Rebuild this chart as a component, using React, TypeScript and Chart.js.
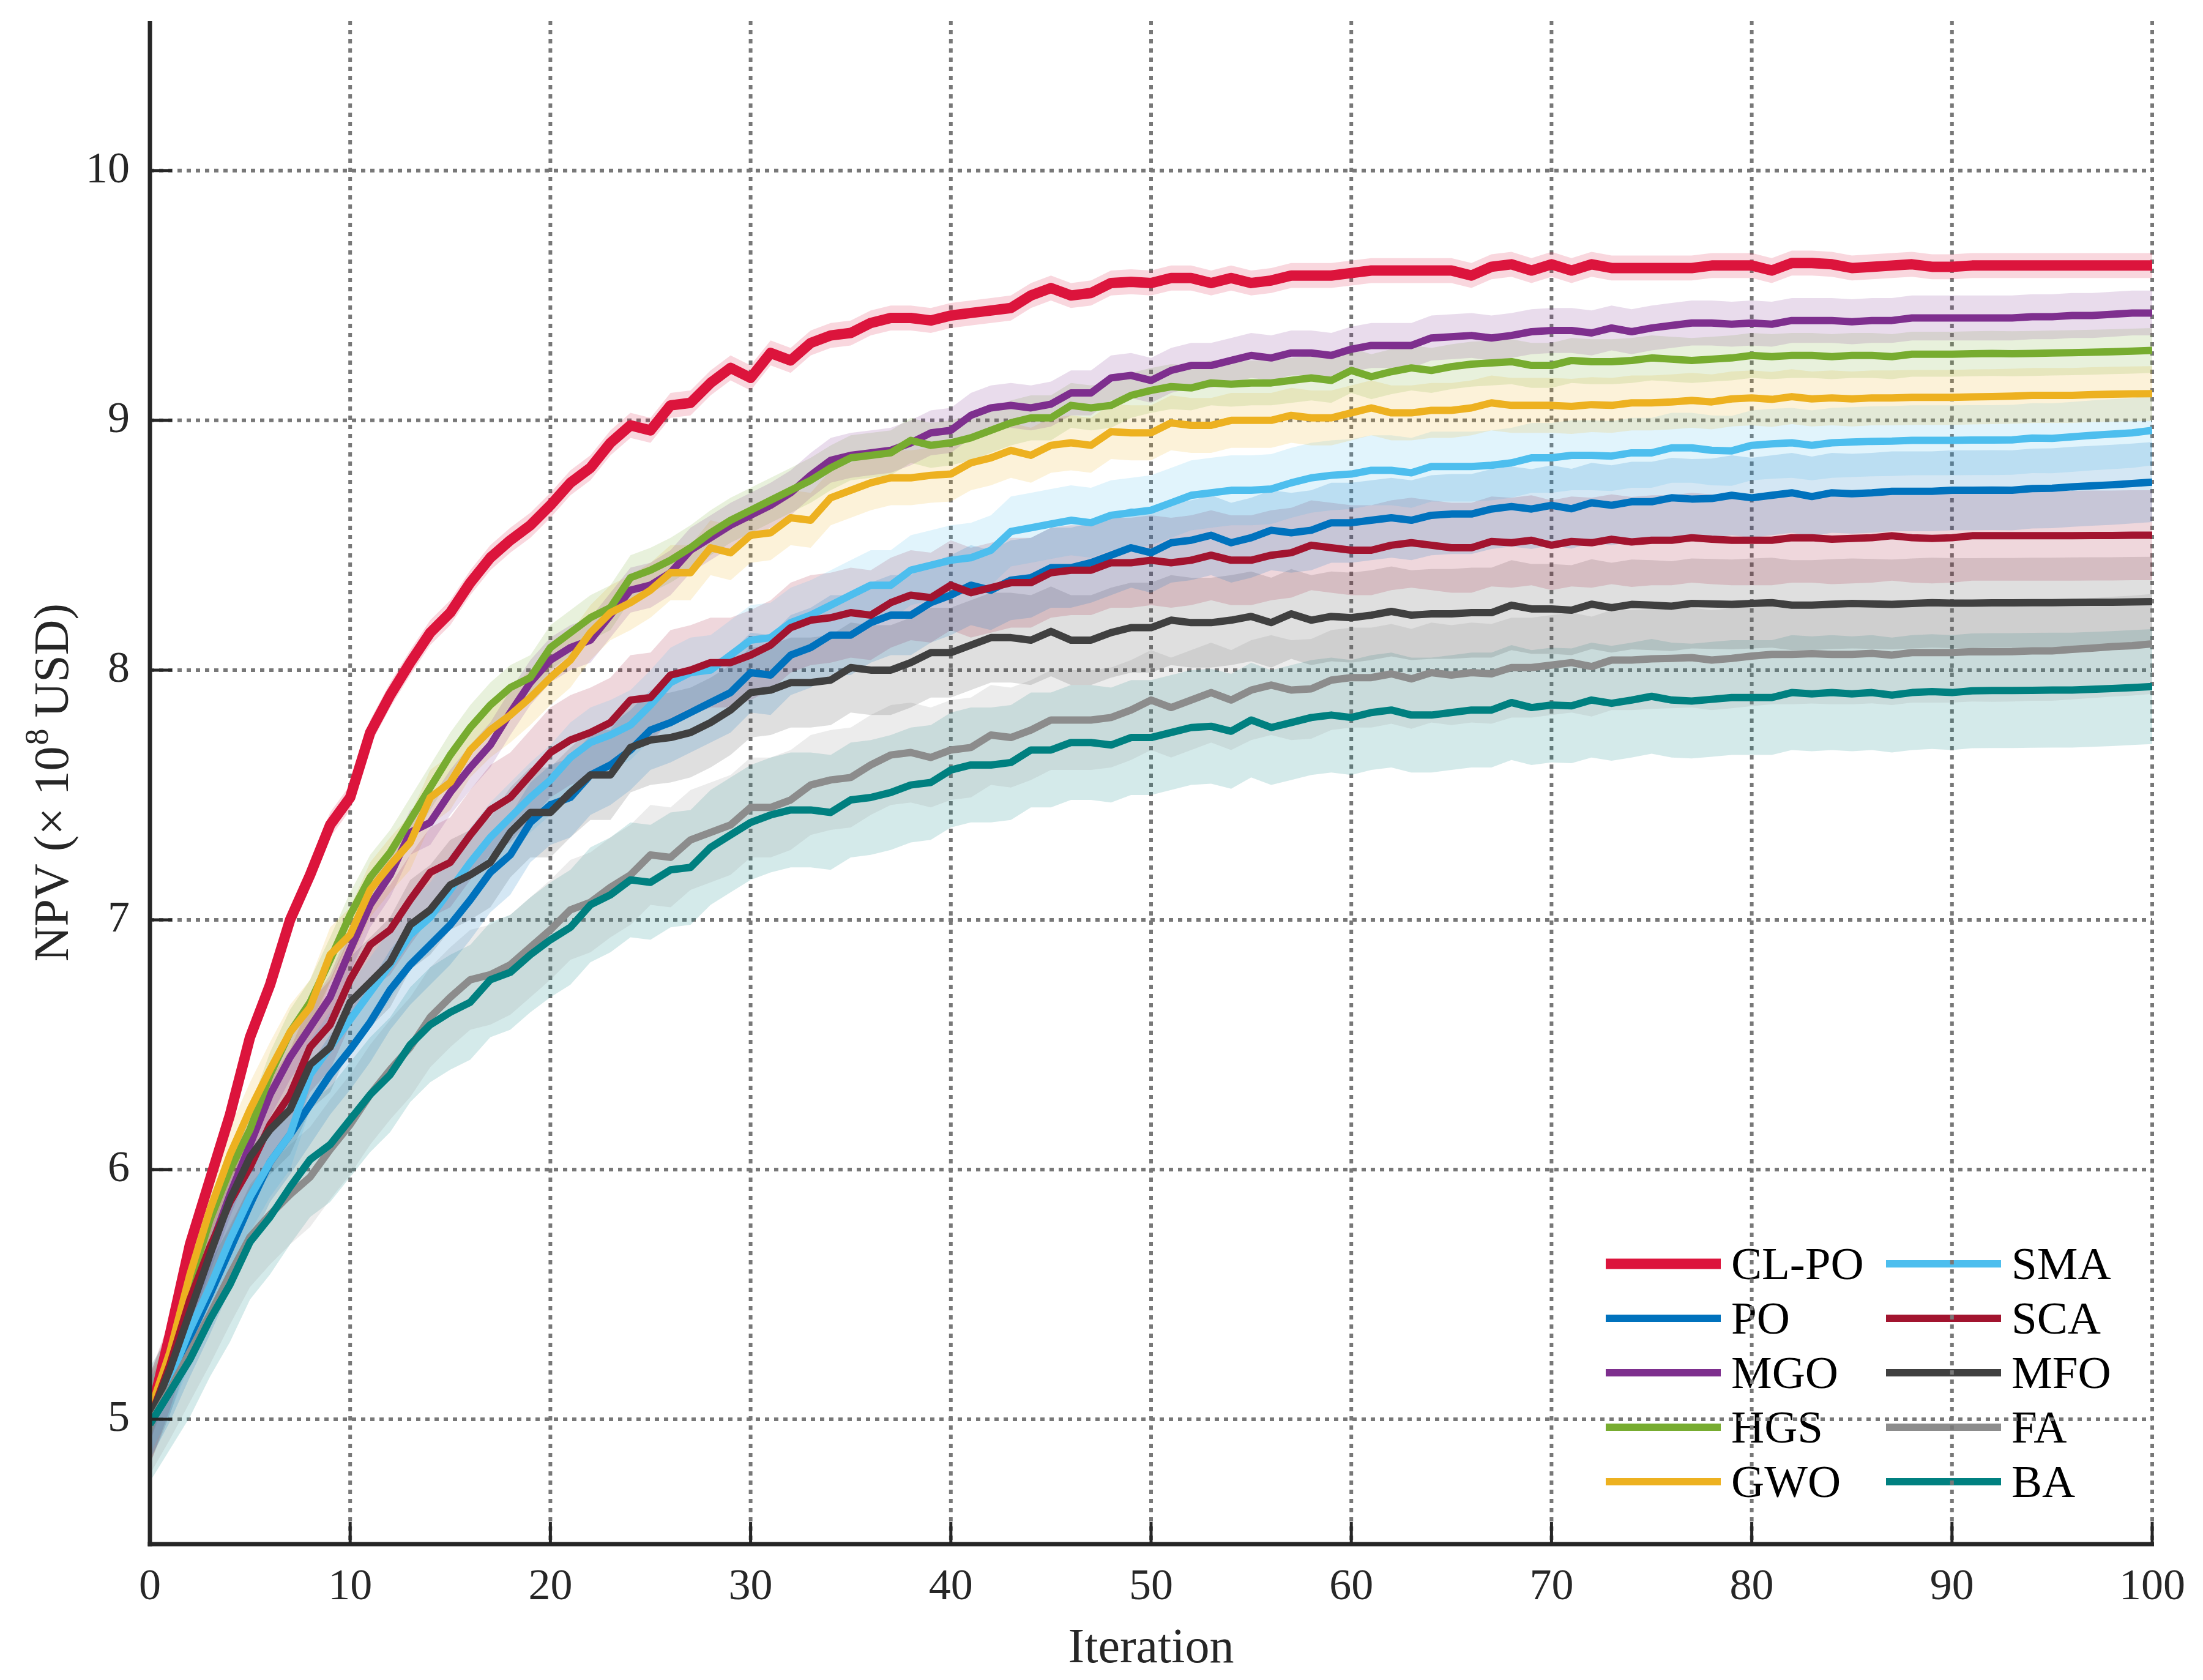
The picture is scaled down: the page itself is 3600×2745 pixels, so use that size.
import React, { useEffect, useRef } from 'react';
import { Chart, registerables } from 'chart.js';

Chart.register(...registerables);

// ---------------- data ----------------
const ITERATIONS = Array.from({ length: 101 }, (_, i) => i);
const X_TICKS = [0, 10, 20, 30, 40, 50, 60, 70, 80, 90, 100];
const Y_TICKS = [5, 6, 7, 8, 9, 10];

const SERIES_NAMES = ['CL-PO', 'PO', 'MGO', 'HGS', 'GWO', 'SMA', 'SCA', 'MFO', 'FA', 'BA'];

const CL_PO = [5.00,5.34,5.70,5.96,6.22,6.53,6.74,7.00,7.18,7.38,
  7.49,7.75,7.90,8.03,8.15,8.23,8.35,8.45,8.52,8.58,
  8.66,8.75,8.81,8.91,8.98,8.96,9.06,9.07,9.15,9.21,
  9.17,9.27,9.24,9.31,9.34,9.35,9.39,9.41,9.41,9.40,
  9.42,9.43,9.44,9.45,9.50,9.53,9.50,9.51,9.55,9.555,
  9.55,9.57,9.57,9.55,9.57,9.55,9.56,9.58,9.58,9.58,
  9.59,9.60,9.60,9.60,9.60,9.60,9.58,9.615,9.625,9.60,
  9.625,9.60,9.625,9.61,9.61,9.61,9.61,9.61,9.62,9.62,
  9.62,9.60,9.63,9.63,9.625,9.61,9.615,9.62,9.625,9.615,
  9.615,9.62,9.62,9.62,9.62,9.62,9.62,9.62,9.62,9.62,
  9.62];

const PO = [5.00,5.15,5.33,5.50,5.68,5.86,6.03,6.14,6.26,6.38,
  6.48,6.59,6.72,6.82,6.90,6.98,7.08,7.19,7.26,7.39,
  7.46,7.49,7.58,7.62,7.68,7.76,7.79,7.83,7.87,7.91,
  7.99,7.98,8.06,8.09,8.14,8.14,8.19,8.22,8.22,8.27,
  8.30,8.34,8.32,8.36,8.37,8.41,8.41,8.43,8.46,8.49,
  8.47,8.51,8.52,8.54,8.51,8.53,8.56,8.55,8.56,8.59,
  8.59,8.60,8.61,8.60,8.62,8.625,8.625,8.645,8.655,8.645,
  8.66,8.646,8.67,8.66,8.674,8.674,8.69,8.685,8.687,8.70,
  8.69,8.70,8.71,8.695,8.71,8.706,8.71,8.716,8.716,8.716,
  8.72,8.72,8.721,8.72,8.727,8.728,8.734,8.738,8.742,8.747,
  8.753];

const MGO = [5.00,5.22,5.46,5.68,5.90,6.10,6.30,6.45,6.57,6.69,
  6.88,7.06,7.18,7.35,7.39,7.51,7.61,7.70,7.83,7.95,
  8.04,8.09,8.12,8.22,8.32,8.34,8.39,8.48,8.53,8.58,
  8.62,8.66,8.71,8.78,8.84,8.86,8.87,8.88,8.91,8.95,
  8.96,9.02,9.05,9.06,9.05,9.065,9.11,9.11,9.17,9.18,
  9.16,9.20,9.22,9.22,9.24,9.26,9.25,9.27,9.27,9.26,
  9.285,9.30,9.30,9.30,9.33,9.335,9.34,9.33,9.34,9.355,
  9.36,9.36,9.35,9.37,9.355,9.37,9.38,9.39,9.39,9.385,
  9.39,9.385,9.40,9.40,9.40,9.395,9.40,9.40,9.41,9.41,
  9.41,9.41,9.41,9.41,9.415,9.415,9.42,9.42,9.425,9.43,
  9.43];

const HGS = [5.00,5.25,5.54,5.80,6.00,6.16,6.38,6.55,6.67,6.84,
  7.02,7.17,7.27,7.40,7.53,7.66,7.77,7.86,7.93,7.97,
  8.09,8.15,8.21,8.25,8.37,8.40,8.44,8.49,8.55,8.60,
  8.64,8.68,8.72,8.76,8.81,8.85,8.86,8.87,8.92,8.90,
  8.91,8.93,8.96,8.99,9.01,9.01,9.06,9.05,9.06,9.10,
  9.12,9.135,9.13,9.15,9.145,9.15,9.15,9.16,9.17,9.16,
  9.20,9.175,9.195,9.21,9.20,9.215,9.225,9.23,9.235,9.22,
  9.22,9.24,9.235,9.235,9.24,9.25,9.245,9.24,9.245,9.25,
  9.26,9.255,9.26,9.26,9.255,9.26,9.26,9.255,9.265,9.265,
  9.265,9.267,9.268,9.267,9.268,9.27,9.271,9.273,9.275,9.277,
  9.28];

const GWO = [5.03,5.27,5.58,5.84,6.06,6.24,6.40,6.55,6.65,6.86,
  6.94,7.12,7.22,7.31,7.49,7.55,7.68,7.76,7.82,7.89,
  7.97,8.04,8.15,8.23,8.27,8.32,8.39,8.39,8.49,8.47,
  8.54,8.55,8.61,8.60,8.69,8.72,8.75,8.77,8.77,8.78,
  8.785,8.83,8.85,8.88,8.86,8.90,8.91,8.90,8.955,8.95,
  8.95,8.99,8.98,8.98,9.00,9.00,9.00,9.02,9.01,9.01,
  9.03,9.05,9.03,9.03,9.04,9.04,9.05,9.07,9.06,9.06,
  9.06,9.056,9.063,9.06,9.07,9.07,9.074,9.08,9.074,9.086,
  9.09,9.084,9.095,9.086,9.09,9.086,9.09,9.09,9.092,9.092,
  9.092,9.094,9.095,9.097,9.10,9.10,9.10,9.103,9.105,9.106,
  9.107];

const SMA = [5.00,5.16,5.36,5.53,5.72,5.89,6.03,6.14,6.38,6.49,
  6.60,6.71,6.82,6.94,7.01,7.12,7.23,7.33,7.41,7.49,
  7.56,7.65,7.71,7.74,7.78,7.86,7.95,7.99,8.00,8.06,
  8.12,8.13,8.19,8.22,8.26,8.30,8.34,8.34,8.40,8.42,
  8.44,8.45,8.48,8.555,8.57,8.585,8.60,8.59,8.62,8.63,
  8.64,8.67,8.70,8.71,8.72,8.72,8.725,8.75,8.77,8.78,
  8.785,8.80,8.80,8.79,8.815,8.815,8.815,8.82,8.83,8.85,
  8.85,8.86,8.86,8.857,8.87,8.87,8.89,8.89,8.88,8.878,
  8.90,8.906,8.91,8.90,8.91,8.913,8.916,8.917,8.92,8.92,
  8.92,8.921,8.921,8.922,8.929,8.928,8.934,8.94,8.945,8.95,
  8.96];

const SCA = [5.00,5.22,5.48,5.69,5.87,6.01,6.18,6.30,6.49,6.58,
  6.76,6.90,6.96,7.08,7.19,7.23,7.34,7.44,7.49,7.58,
  7.67,7.72,7.75,7.79,7.88,7.89,7.98,8.00,8.03,8.03,
  8.06,8.10,8.17,8.20,8.21,8.23,8.22,8.27,8.30,8.29,
  8.34,8.31,8.33,8.35,8.35,8.39,8.40,8.40,8.43,8.43,
  8.44,8.43,8.44,8.46,8.44,8.44,8.46,8.47,8.50,8.49,
  8.48,8.48,8.50,8.51,8.50,8.49,8.49,8.515,8.51,8.52,
  8.50,8.515,8.51,8.524,8.513,8.52,8.52,8.53,8.524,8.52,
  8.52,8.52,8.53,8.53,8.524,8.527,8.53,8.538,8.53,8.527,
  8.53,8.538,8.538,8.538,8.538,8.538,8.538,8.539,8.539,8.54,
  8.54];

const MFO = [5.00,5.20,5.43,5.66,5.88,6.05,6.16,6.24,6.42,6.49,
  6.67,6.75,6.83,6.98,7.04,7.14,7.18,7.23,7.35,7.43,
  7.43,7.51,7.58,7.58,7.69,7.72,7.73,7.75,7.79,7.84,
  7.91,7.92,7.95,7.95,7.96,8.01,8.00,8.00,8.03,8.07,
  8.07,8.10,8.13,8.13,8.12,8.155,8.12,8.12,8.15,8.17,
  8.17,8.20,8.19,8.19,8.20,8.215,8.19,8.225,8.20,8.215,
  8.21,8.22,8.235,8.22,8.225,8.225,8.23,8.23,8.26,8.245,
  8.245,8.24,8.264,8.25,8.263,8.26,8.256,8.267,8.265,8.263,
  8.267,8.27,8.26,8.26,8.264,8.267,8.265,8.263,8.267,8.27,
  8.268,8.268,8.269,8.269,8.27,8.27,8.271,8.272,8.272,8.273,
  8.274];

const FA = [4.98,5.12,5.27,5.42,5.58,5.73,5.82,5.90,5.97,6.08,
  6.18,6.30,6.40,6.49,6.61,6.69,6.76,6.78,6.82,6.89,
  6.96,7.04,7.07,7.13,7.18,7.26,7.25,7.32,7.35,7.38,
  7.45,7.45,7.48,7.54,7.56,7.57,7.62,7.66,7.67,7.65,
  7.68,7.69,7.74,7.73,7.76,7.80,7.80,7.80,7.81,7.84,
  7.88,7.85,7.88,7.91,7.88,7.92,7.94,7.92,7.925,7.96,
  7.97,7.97,7.985,7.965,7.99,7.98,7.99,7.985,8.01,8.01,
  8.02,8.03,8.014,8.04,8.04,8.045,8.047,8.05,8.04,8.047,
  8.056,8.063,8.063,8.066,8.063,8.063,8.067,8.06,8.07,8.07,
  8.07,8.074,8.073,8.074,8.077,8.077,8.083,8.088,8.094,8.098,
  8.105];

const BA = [4.98,5.11,5.24,5.40,5.54,5.71,5.81,5.93,6.04,6.10,
  6.20,6.30,6.38,6.50,6.58,6.63,6.67,6.76,6.79,6.86,
  6.92,6.97,7.06,7.10,7.16,7.15,7.20,7.21,7.29,7.34,
  7.39,7.42,7.44,7.44,7.43,7.48,7.49,7.51,7.54,7.55,
  7.60,7.62,7.62,7.63,7.68,7.68,7.71,7.71,7.70,7.73,
  7.73,7.75,7.77,7.775,7.755,7.80,7.77,7.79,7.81,7.82,
  7.81,7.83,7.84,7.82,7.82,7.83,7.84,7.84,7.87,7.85,
  7.86,7.857,7.88,7.867,7.88,7.895,7.88,7.876,7.883,7.89,
  7.89,7.89,7.91,7.905,7.91,7.905,7.91,7.90,7.91,7.914,
  7.91,7.917,7.918,7.918,7.919,7.92,7.92,7.923,7.926,7.93,
  7.934];

// half-width of the shaded spread around each mean curve
const BAND_HALF_WIDTH = [0.05, 0.16, 0.09, 0.09, 0.11, 0.14, 0.18, 0.18, 0.20, 0.23];

// ---------------- styles ----------------
const SERIES_VALUES = [CL_PO, PO, MGO, HGS, GWO, SMA, SCA, MFO, FA, BA];
const SERIES_COLORS = ['#DC143C', '#0072BD', '#7E2F8E', '#77AC30', '#EDB120', '#4DBEEE', '#A2142F', '#404040', '#8C8C8C', '#008080'];
const LINE_WIDTHS = [17, 12, 12, 12, 12, 12, 12, 12, 12, 12];
const BAND_ALPHA = 0.17;
const FONT = '"Liberation Serif", "Times New Roman", Times, serif';
const AXIS_COLOR = '#262626';
const GRID_COLOR = '#787878';

const W = 3600;
const H = 2745;

function hexToRgba(hex: string, a: number) {
  const n = parseInt(hex.slice(1), 16);
  return `rgba(${(n >> 16) & 255},${(n >> 8) & 255},${n & 255},${a})`;
}

function strokeLine(ctx: CanvasRenderingContext2D, x1: number, y1: number, x2: number, y2: number) {
  ctx.beginPath();
  ctx.moveTo(x1, y1);
  ctx.lineTo(x2, y2);
  ctx.stroke();
}

const decorPlugin = {
  id: 'decor',
  beforeDatasetsDraw(chart: any) {
    const { ctx, chartArea: ca, scales } = chart;
    const xs = scales.x;
    const ys = scales.y;
    ctx.save();

    // legend (2 columns x 5 rows, inside bottom-right)
    const colLineStart = [ca.right - 893, ca.right - 435];
    const lineLen = 188;
    const rowY0 = ca.bottom - 458;
    const rowStep = 89;
    const legendSize = 75;
    ctx.font = `${legendSize}px ${FONT}`;
    ctx.textBaseline = 'alphabetic';
    ctx.textAlign = 'left';
    SERIES_NAMES.forEach((name, k) => {
      const col = Math.floor(k / 5);
      const row = k % 5;
      const y = rowY0 + row * rowStep;
      const x0 = colLineStart[col];
      ctx.strokeStyle = SERIES_COLORS[k];
      ctx.lineWidth = LINE_WIDTHS[k];
      ctx.lineCap = 'butt';
      strokeLine(ctx, x0, y, x0 + lineLen, y);
      ctx.fillStyle = '#000';
      ctx.fillText(name, x0 + lineLen + 17, y + legendSize * 0.33);
    });

    // dotted grid (under the curves)
    ctx.setLineDash([7, 8]);
    ctx.lineWidth = 6;
    ctx.strokeStyle = GRID_COLOR;
    X_TICKS.forEach((t) => {
      if (t === X_TICKS[0]) return;
      const px = xs.getPixelForValue(t);
      strokeLine(ctx, px, ca.top, px, ca.bottom);
    });
    Y_TICKS.forEach((t) => {
      const py = ys.getPixelForValue(t);
      strokeLine(ctx, ca.left, py, ca.right, py);
    });
    ctx.setLineDash([]);
    ctx.restore();
  },
  afterDatasetsDraw(chart: any) {
    const { ctx, chartArea: ca, scales } = chart;
    const xs = scales.x;
    const ys = scales.y;
    ctx.save();

    // axes
    ctx.strokeStyle = AXIS_COLOR;
    ctx.lineWidth = 7;
    ctx.lineCap = 'butt';
    strokeLine(ctx, ca.left, ca.top, ca.left, ca.bottom + 3.5);
    strokeLine(ctx, ca.left - 3.5, ca.bottom, ca.right + 3, ca.bottom);

    // inward tick marks
    ctx.lineWidth = 5;
    X_TICKS.forEach((t) => {
      const px = xs.getPixelForValue(t);
      strokeLine(ctx, px, ca.bottom, px, ca.bottom - 36);
    });
    Y_TICKS.forEach((t) => {
      const py = ys.getPixelForValue(t);
      strokeLine(ctx, ca.left, py, ca.left + 36, py);
    });

    // axis titles
    const titleSize = 80;
    ctx.fillStyle = AXIS_COLOR;
    ctx.font = `${titleSize}px ${FONT}`;
    ctx.textAlign = 'center';
    ctx.textBaseline = 'alphabetic';
    ctx.fillText('Iteration', (ca.left + ca.right) / 2, 2690 + titleSize * 0.33);

    // y title with superscript
    const p1 = 'NPV (\u00D7 10';
    const sup = '8';
    const p2 = ' USD)';
    const supSize = Math.round(titleSize * 0.68);
    ctx.save();
    ctx.translate(85, (ca.top + ca.bottom) / 2);
    ctx.rotate(-Math.PI / 2);
    ctx.textAlign = 'left';
    ctx.font = `${titleSize}px ${FONT}`;
    const w1 = ctx.measureText(p1).width;
    const w3 = ctx.measureText(p2).width;
    ctx.font = `${supSize}px ${FONT}`;
    const w2 = ctx.measureText(sup).width;
    let x = -(w1 + w2 + w3) / 2;
    const base = titleSize * 0.33;
    ctx.font = `${titleSize}px ${FONT}`;
    ctx.fillText(p1, x, base);
    x += w1;
    ctx.font = `${supSize}px ${FONT}`;
    ctx.fillText(sup, x + 2, base - titleSize * 0.42);
    x += w2;
    ctx.font = `${titleSize}px ${FONT}`;
    ctx.fillText(p2, x, base);
    ctx.restore();

    ctx.restore();
  },
};

export default function App() {
  const canvasRef = useRef<HTMLCanvasElement | null>(null);

  useEffect(() => {
    const canvas = canvasRef.current;
    if (!canvas) return;

    const lineSets: any[] = SERIES_VALUES.map((vals, k) => ({
      label: SERIES_NAMES[k],
      data: ITERATIONS.map((it, i) => ({ x: it, y: vals[i] })),
      borderColor: SERIES_COLORS[k],
      backgroundColor: SERIES_COLORS[k],
      borderWidth: LINE_WIDTHS[k],
      pointRadius: 0,
      pointHoverRadius: 0,
      fill: false,
      tension: 0,
      borderJoinStyle: 'round',
      borderCapStyle: 'butt',
      order: 10 - k,
    }));

    const bandSets: any[] = [];
    SERIES_VALUES.forEach((vals, k) => {
      const hw = BAND_HALF_WIDTH[k];
      const lowerIndex = lineSets.length + bandSets.length;
      bandSets.push({
        label: SERIES_NAMES[k] + ' lower',
        data: ITERATIONS.map((it, i) => ({ x: it, y: vals[i] - hw })),
        borderWidth: 0,
        borderColor: 'rgba(0,0,0,0)',
        pointRadius: 0,
        fill: false,
        tension: 0,
        order: 100,
      });
      bandSets.push({
        label: SERIES_NAMES[k] + ' upper',
        data: ITERATIONS.map((it, i) => ({ x: it, y: vals[i] + hw })),
        borderWidth: 0,
        borderColor: 'rgba(0,0,0,0)',
        backgroundColor: hexToRgba(SERIES_COLORS[k], BAND_ALPHA),
        pointRadius: 0,
        fill: lowerIndex,
        tension: 0,
        order: 100,
      });
    });

    const tickFont = { family: FONT, size: 72 };

    const chart = new Chart(canvas, {
      type: 'line',
      data: { datasets: [...lineSets, ...bandSets] },
      options: {
        animation: false,
        responsive: false,
        devicePixelRatio: 1,
        events: [],
        layout: { padding: { top: 34, right: 83, left: 0, bottom: 0 } },
        plugins: {
          legend: { display: false },
          tooltip: { enabled: false },
          filler: { propagate: false },
        },
        scales: {
          x: {
            type: 'linear',
            min: 0,
            max: 100,
            afterBuildTicks: (s: any) => {
              s.ticks = X_TICKS.map((v) => ({ value: v }));
            },
            afterFit: (s: any) => {
              s.height = H - 2523;
              s.paddingLeft = 0;
              s.paddingRight = 0;
            },
            ticks: {
              font: tickFont,
              color: AXIS_COLOR,
              padding: 28,
              maxRotation: 0,
              autoSkip: false,
            },
            grid: { display: false, drawTicks: false },
            border: { display: false },
          },
          y: {
            type: 'linear',
            min: 4.5,
            max: 10.6,
            afterBuildTicks: (s: any) => {
              s.ticks = Y_TICKS.map((v) => ({ value: v }));
            },
            afterFit: (s: any) => {
              s.width = 245;
              s.paddingTop = 0;
              s.paddingBottom = 0;
            },
            ticks: {
              font: tickFont,
              color: AXIS_COLOR,
              padding: 33,
              autoSkip: false,
            },
            grid: { display: false, drawTicks: false },
            border: { display: false },
          },
        },
      } as any,
      plugins: [decorPlugin as any],
    });

    return () => {
      chart.destroy();
    };
  }, []);

  return (
    <div style={{ position: 'fixed', left: 0, top: 0, width: W, height: H, background: '#fff' }}>
      <canvas ref={canvasRef} width={W} height={H} style={{ width: W, height: H, display: 'block' }} />
    </div>
  );
}
